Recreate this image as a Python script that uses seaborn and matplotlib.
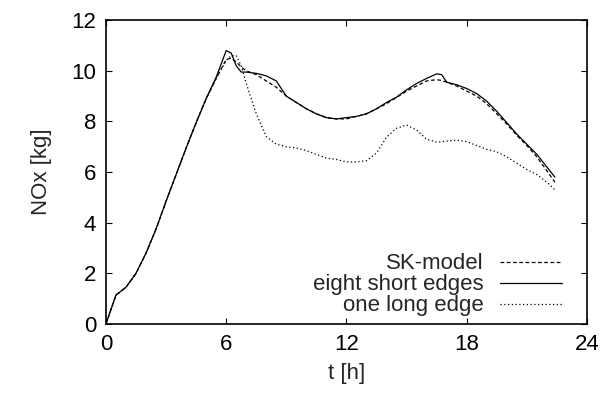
import pandas as pd
import seaborn as sns
import matplotlib
matplotlib.use("Agg")
import matplotlib.pyplot as plt

# time axis [h] shared by all three series
t_h = [0, 0.5, 1, 1.5, 2, 2.5, 3, 3.5, 4, 4.5, 5, 5.5, 6, 6.25, 6.5, 6.75,
       7, 7.5, 8, 8.5, 9, 9.5, 10, 10.5, 11, 11.5, 12, 12.5, 13, 13.5, 14,
       14.5, 15, 15.5, 16, 16.5, 16.75, 17, 17.5, 18, 18.5, 19, 19.5, 20,
       20.5, 21, 21.5, 22, 22.4]

sk_model = [0, 1.14, 1.45, 2.0, 2.8, 3.75, 4.85, 5.9, 6.95, 7.95, 8.9, 9.7,
            10.45, 10.5, 10.35, 10.15, 10.0, 9.85, 9.6, 9.35, 9.0, 8.75, 8.5,
            8.3, 8.15, 8.1, 8.1, 8.2, 8.3, 8.5, 8.7, 8.95, 9.2, 9.4, 9.6, 9.65,
            9.62, 9.55, 9.4, 9.2, 9.0, 8.7, 8.3, 7.9, 7.45, 7.05, 6.6, 6.05, 5.6]

eight_short = [0, 1.14, 1.45, 2.0, 2.8, 3.75, 4.85, 5.9, 6.95, 7.95, 8.9, 9.75,
               10.8, 10.7, 10.2, 9.95, 9.95, 9.9, 9.8, 9.6, 9.0, 8.75, 8.5,
               8.3, 8.15, 8.1, 8.15, 8.2, 8.3, 8.5, 8.75, 8.96, 9.25, 9.5, 9.7,
               9.88, 9.85, 9.55, 9.45, 9.3, 9.1, 8.8, 8.4, 7.95, 7.5, 7.1, 6.7,
               6.2, 5.8]

one_long = [0, 1.14, 1.45, 2.0, 2.8, 3.75, 4.85, 5.9, 6.95, 7.95, 8.9, 9.7,
            10.4, 10.6, 10.6, 10.2, 9.5, 8.3, 7.4, 7.1, 7.0, 6.95, 6.85, 6.7,
            6.55, 6.5, 6.4, 6.4, 6.45, 6.75, 7.38, 7.73, 7.86, 7.66, 7.3, 7.18,
            7.2, 7.22, 7.26, 7.2, 7.05, 6.9, 6.8, 6.6, 6.35, 6.1, 5.9, 5.6, 5.3]

sns.set_style("ticks")
plt.rcParams["font.family"] = ["Liberation Sans", "DejaVu Sans"]

fig, ax = plt.subplots(figsize=(6.02, 3.96), dpi=100)
fig.subplots_adjust(left=0.176, right=0.975, bottom=0.182, top=0.949)

sns.lineplot(x=t_h, y=sk_model, ax=ax, color="black", linewidth=0.9,
             linestyle=(0, (3, 2)), label="SK-model")
sns.lineplot(x=t_h, y=eight_short, ax=ax, color="black", linewidth=0.9,
             linestyle="-", label="eight short edges")
sns.lineplot(x=t_h, y=one_long, ax=ax, color="black", linewidth=0.9,
             linestyle=(0, (1, 2)), label="one long edge")

ax.set_xlim(0, 24)
ax.set_ylim(0, 12)
ax.set_xticks([0, 6, 12, 18, 24])
ax.set_yticks([0, 2, 4, 6, 8, 10, 12])
ax.tick_params(direction="in", length=4, width=0.8, labelsize=16,
               top=True, right=True, pad=7, colors="black")
for sp in ax.spines.values():
    sp.set_linewidth(1.2)
    sp.set_color("black")

ax.set_xlabel("t [h]", fontsize=16, labelpad=6)
ax.set_ylabel("NOx [kg]", fontsize=16, labelpad=14)

ax.legend(loc="lower right", bbox_to_anchor=(0.957, 0.01), frameon=False,
          markerfirst=False, fontsize=16, handlelength=2.8,
          handletextpad=0.7, labelspacing=0.0, borderpad=0.1,
          borderaxespad=0.1)

fig.savefig("out.png", dpi=100)
